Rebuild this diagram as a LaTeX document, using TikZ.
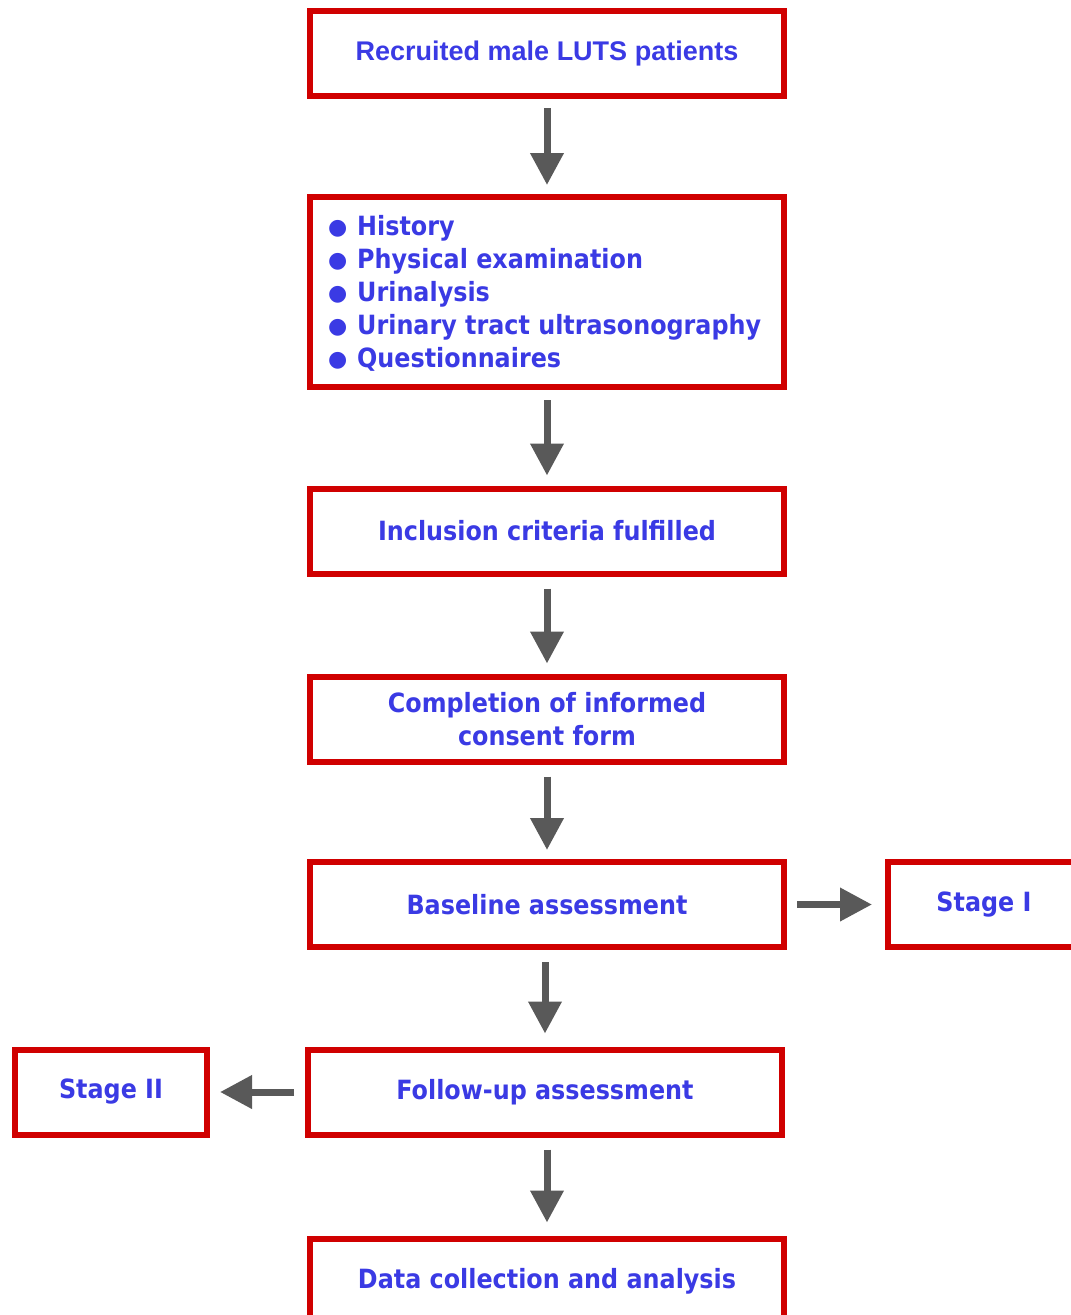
\documentclass[tikz,border=0pt]{standalone}
\usepackage{fontspec}
\usetikzlibrary{arrows.meta}
\setmainfont[FakeStretch=0.9]{DejaVu Sans}
\newfontfamily\arialfont{Liberation Sans}
\newfontfamily\bltfont{DejaVu Sans}
\definecolor{boxred}{RGB}{208,0,0}
\definecolor{txtblue}{RGB}{58,58,228}
\definecolor{arrgray}{RGB}{89,89,89}
\newcommand\blt{\makebox[29pt][l]{\bltfont\fontsize{22}{22}\selectfont\raisebox{1pt}{●}}}
\tikzset{
  flowbox/.style={draw=boxred, line width=6pt, rectangle, inner sep=0pt,
    text=txtblue, font=\bfseries\fontsize{26.5}{33}\selectfont, align=center,
    minimum width=474pt, minimum height=85pt},
  stagebox/.style={flowbox, minimum width=192pt},
  flowarrow/.style={draw=arrgray, line width=7pt,
    -{Triangle[width=32pt,length=32pt]}},
}
\begin{document}
\begin{tikzpicture}[x=1pt,y=-1pt]
\path[use as bounding box] (0,0) rectangle (1071,1315);
\clip (0,0) rectangle (1071,1315);
\node[flowbox, font=\arialfont\bfseries\fontsize{27}{32}\selectfont] (recruit) at (547,53.5) {Recruited male LUTS patients};
\node[flowbox, minimum height=190pt] (exam) at (547,292) {};
\node[anchor=west, text=txtblue, font=\bfseries\fontsize{26.5}{33}\selectfont, align=left, inner sep=0pt] (examtext) at (328,293)
  {\blt History\\ \blt Physical examination\\ \blt Urinalysis\\ \blt Urinary tract ultrasonography\\ \blt Questionnaires};
\node[flowbox] (incl) at (547,531) {Inclusion criteria fulfilled};
\node[flowbox] (consent) at (547,719) {Completion of informed\\consent form};
\node[flowbox] (base) at (547,904.5) {Baseline assessment};
\node[flowbox] (follow) at (545,1092) {Follow-up assessment};
\node[flowbox] (data) at (547,1281) {Data collection and analysis};
\node[stagebox] (stage1) at (984,904.5) {Stage I};
\node[stagebox] (stage2) at (111,1092) {Stage II};
\draw[flowarrow, shorten <=9pt, shorten >=9pt] (recruit) -- (exam);
\draw[flowarrow, shorten <=10pt, shorten >=10pt] (exam) -- (incl);
\draw[flowarrow, shorten <=12pt, shorten >=10pt] (incl) -- (consent);
\draw[flowarrow, shorten <=12pt, shorten >=9pt] (consent) -- (base);
\draw[flowarrow, shorten <=12pt, shorten >=13pt] ([xshift=-2pt]base.south) -- ([xshift=-2pt]base.south |- follow.north);
\draw[flowarrow, shorten <=12pt, shorten >=13pt] ([xshift=2pt]follow.south) -- ([xshift=2pt]follow.south |- data.north);
\draw[flowarrow, shorten <=10pt, shorten >=13pt] (base) -- (stage1);
\draw[flowarrow, shorten <=11pt, shorten >=10pt] (follow) -- (stage2);
\end{tikzpicture}
\end{document}
